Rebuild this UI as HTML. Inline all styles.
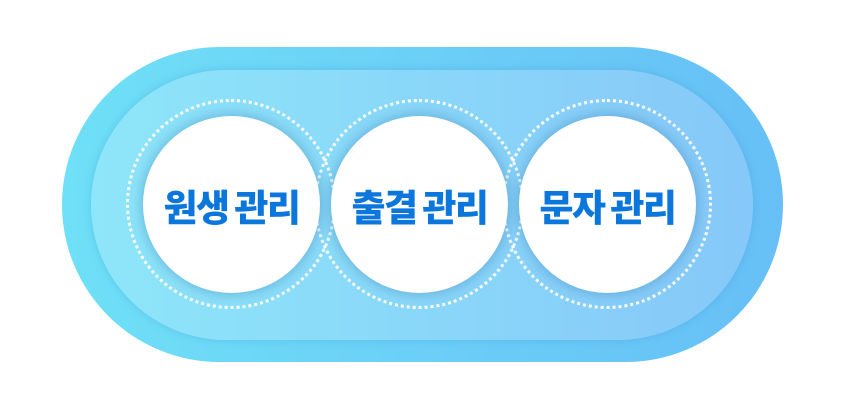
<!DOCTYPE html>
<html><head><meta charset="utf-8"><style>
html,body{margin:0;padding:0;background:#fff;width:853px;height:410px;overflow:hidden}
.abs{position:absolute}
.outer{left:62px;top:47px;width:721px;height:315px;border-radius:158px;background:linear-gradient(90deg,#6fe0f7,#67bff6)}
.inner{left:91px;top:70px;width:662px;height:270px;border-radius:135px;background:linear-gradient(90deg,#8ee6f9,#86c8f9);box-shadow:0 0 8px rgba(60,150,210,0.35)}
.dot{width:210px;height:210px;border-radius:50%;border:3px dotted rgba(255,255,255,0.95);box-sizing:border-box}
.c{width:177px;height:177px;border-radius:50%;background:#fff;box-shadow:0 0 14px rgba(40,110,170,0.45);display:flex;align-items:center;justify-content:center;font-family:"Liberation Sans","Noto Sans CJK KR",sans-serif;font-weight:900;font-size:37px;color:#0b76dc;letter-spacing:-1.5px;word-spacing:-3px}
</style></head><body>
<div class="abs outer"></div>
<div class="abs inner"></div>
<div class="abs dot" style="left:126px;top:99px"></div>
<div class="abs dot" style="left:314px;top:99px"></div>
<div class="abs dot" style="left:502px;top:99px"></div>
<div class="abs c" style="left:143px;top:116px">원생 관리</div>
<div class="abs c" style="left:331px;top:116px">출결 관리</div>
<div class="abs c" style="left:519px;top:116px">문자 관리</div>
</body></html>
